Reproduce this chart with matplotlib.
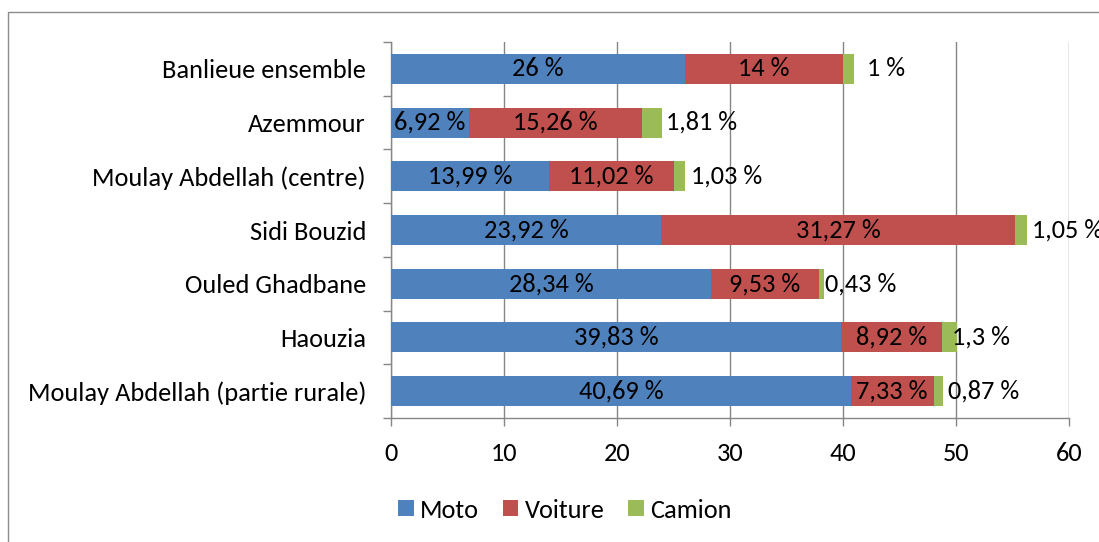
import matplotlib
matplotlib.use('Agg')
import matplotlib.pyplot as plt
from matplotlib.patches import Rectangle

plt.rcParams['font.family'] = ['Carlito', 'DejaVu Sans']

CATEGORIES = [
    'Banlieue ensemble',
    'Azemmour',
    'Moulay Abdellah (centre)',
    'Sidi Bouzid',
    'Ouled Ghadbane',
    'Haouzia',
    'Moulay Abdellah (partie rurale)',
]
MOTO = [26, 6.92, 13.99, 23.92, 28.34, 39.83, 40.69]
VOITURE = [14, 15.26, 11.02, 31.27, 9.53, 8.92, 7.33]
CAMION = [1, 1.81, 1.03, 1.05, 0.43, 1.3, 0.87]
SERIES_NAMES = ['Moto', 'Voiture', 'Camion']
X_TICKS = [0, 10, 20, 30, 40, 50, 60]

COLORS = ['#4F81BD', '#C0504D', '#9BBB59']
GRID_COLOR = '#868686'
CAT_SIZE = 19
NUM_SIZE = 19
# horizontal nudge (points) for the Camion labels placed after each bar
CAMION_LABEL_NUDGE = [9, 3, 4, 4, 1, -3, 3]


def fmt(value):
    text = f'{value:.2f}'.rstrip('0').rstrip('.')
    return text.replace('.', ',') + ' %'


fig = plt.figure(figsize=(10.99, 5.42), dpi=100)
fig.patches.append(Rectangle((8 / 1099, -0.1), 1.2, 1.1 - 12 / 542,
                             transform=fig.transFigure, fill=False,
                             edgecolor='#8C8C8C', linewidth=1.0))

ax = fig.add_axes([391 / 1099, 1 - 418 / 542, 678 / 1099, 376 / 542])

ypos = list(range(len(CATEGORIES)))
left = [0] * len(CATEGORIES)
bars = []
for name, values, color in zip(SERIES_NAMES, [MOTO, VOITURE, CAMION], COLORS):
    b = ax.barh(ypos, values, left=left, height=0.56, color=color,
                label=name, zorder=3)
    bars.append(b)
    left = [l + v for l, v in zip(left, values)]

# Moto and Voiture labels sit in the middle of their segment
for values, starts in ((MOTO, [0] * len(MOTO)), (VOITURE, MOTO)):
    for y, v, s in zip(ypos, values, starts):
        ax.text(s + v / 2, y, fmt(v), ha='center', va='center',
                fontsize=NUM_SIZE, color='black', zorder=4)

# Camion labels follow the end of the bar
for y, v, end, dx in zip(ypos, CAMION, left, CAMION_LABEL_NUDGE):
    ax.annotate(fmt(v), (end, y), xytext=(dx, 0), textcoords='offset points',
                ha='left', va='center', fontsize=NUM_SIZE, color='black',
                zorder=4, annotation_clip=False)

ax.set_xlim(0, 60)
ax.set_ylim(len(CATEGORIES) - 0.5, -0.5)
ax.set_xticks(X_TICKS)
ax.set_xticklabels([str(t) for t in X_TICKS], fontsize=NUM_SIZE)
ax.set_yticks(ypos)
ax.set_yticklabels(CATEGORIES, fontsize=CAT_SIZE)
ax.set_yticks([i - 0.5 for i in range(len(CATEGORIES) + 1)], minor=True)

ax.tick_params(axis='y', which='major', length=0, pad=18)
ax.tick_params(axis='y', which='minor', length=6, color=GRID_COLOR, width=1)
ax.tick_params(axis='x', which='major', length=6, color=GRID_COLOR, width=1,
               pad=11)

ax.grid(axis='x', color=GRID_COLOR, linewidth=1, zorder=0)
ax.set_axisbelow(True)
for side in ('top', 'right'):
    ax.spines[side].set_visible(False)
for side in ('left', 'bottom'):
    ax.spines[side].set_color(GRID_COLOR)
    ax.spines[side].set_linewidth(1)

fig.legend(handles=bars, labels=SERIES_NAMES, loc='center',
           bbox_to_anchor=(565 / 1099, 1 - 510 / 542), ncol=3, frameon=False,
           fontsize=NUM_SIZE, handlelength=0.58, handleheight=0.58,
           handletextpad=0.25, columnspacing=0.9)

fig.savefig('out.png', dpi=100)
